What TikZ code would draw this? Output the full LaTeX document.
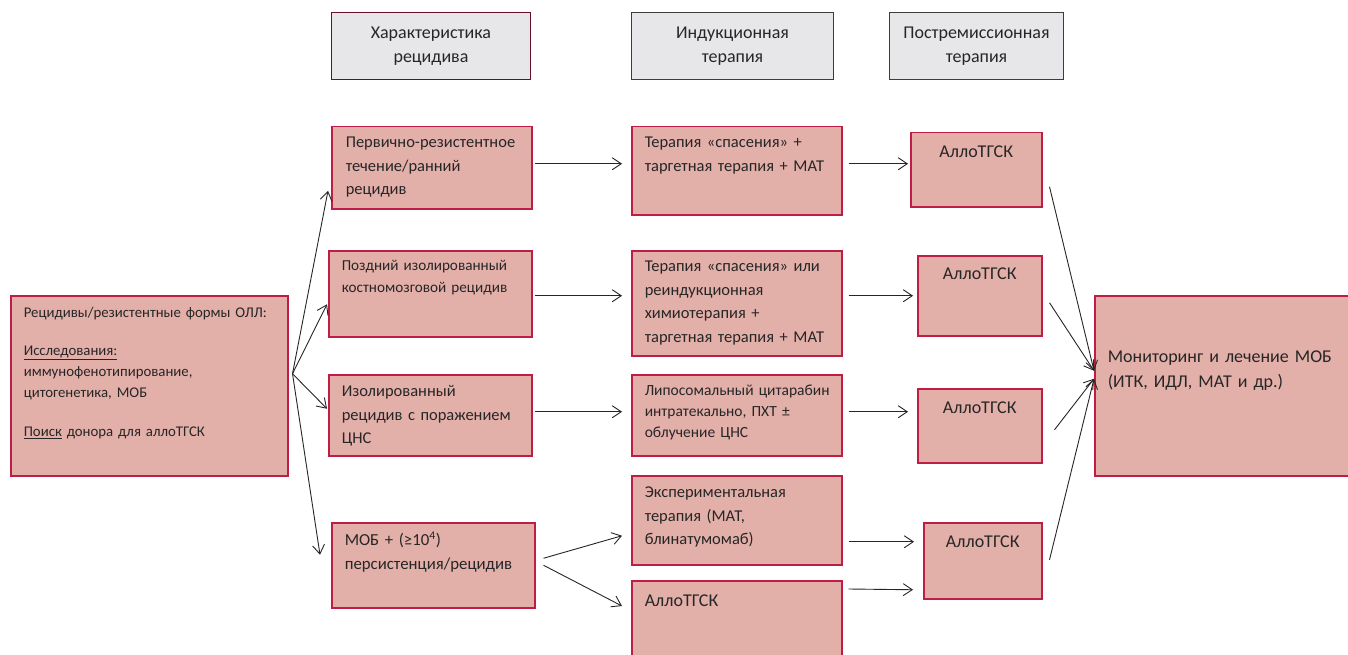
\documentclass[tikz,border=0pt]{standalone}
\usepackage{fontspec}
\setmainfont{Carlito}
\usepackage{tikz}
\usetikzlibrary{arrows.meta,positioning}
\definecolor{boxfill}{HTML}{E3AFA9}
\definecolor{boxline}{HTML}{BE1E46}
\definecolor{hdrfill}{HTML}{E7E7E9}
\definecolor{hdrline}{HTML}{3C3C3C}
\definecolor{ink}{HTML}{262626}
\newcommand{\fsz}[2]{\fontsize{#1}{#2}\selectfont}

\begin{document}
\begin{tikzpicture}[x=1pt, y=-1pt]

\tikzstyle{box} = [rectangle, draw=boxline, fill=boxfill, line width=1.5pt, anchor=north west, inner xsep=2pt, inner ysep=0pt, text=ink, align=left, font=\fsz{16.5}{23.5}]
\tikzstyle{hdr} = [rectangle, draw=hdrline, fill=hdrfill, line width=1pt, anchor=north west, inner sep=0pt, text=ink, align=center, font=\fsz{18}{24}]
\tikzstyle{arr} = [ink, line width=0.9pt, -{Straight Barb[length=9pt,width=12pt]}]
% text width, left pad, text height, text depth
\tikzset{cell/.style n args={4}{text width=#1, text height=#3, text depth=#4, execute at begin node={\advance\leftskip by #2}}}

\clip (0,0) rectangle (1348,655);
\fill[white] (0,0) rectangle (1348,655);

% column headers
\node (hchar) [hdr, draw=boxline!55!black, minimum width=199pt, minimum height=67pt] at (331,12) {Характеристика\\рецидива};
\node (hind) [hdr, minimum width=202pt, minimum height=67pt] at (631,12) {Индукционная\\терапия};
\node (hpost) [hdr, minimum width=174pt, minimum height=67pt] at (889,12) {Постремиссионная\\терапия};

% start box
\node (ozl) [box, cell={273pt}{11pt}{22pt}{158pt}, font=\fsz{14.8}{21}] at (10,295) {Рецидивы/резистентные формы ОЛЛ:\\[17pt]\underline{Исследования:}\\иммунофенотипирование,\\цитогенетика, МОБ\\[18pt]\underline{Поиск} донора для аллоТГСК};

% relapse type
\node (early) [box, cell={196pt}{12pt}{21pt}{61pt}] at (331,126) {Первично-резистентное\\течение/ранний\\рецидив};
\node (late) [box, cell={199pt}{11pt}{20pt}{66pt}, font=\fsz{15.2}{22}] at (328,250) {Поздний изолированный\\костномозговой рецидив};
\node (cns) [box, cell={199pt}{11pt}{22pt}{59pt}] at (328,374) {Изолированный\\рецидив с поражением\\ЦНС};
\node (mrd) [box, cell={199pt}{11pt}{23pt}{62pt}, font=\fsz{16.8}{23.5}] at (331,522) {МОБ + (≥10\textsuperscript{4})\\персистенция/рецидив};

% induction
\node (salv1) [box, cell={206pt}{11pt}{21pt}{67pt}] at (631,126) {Терапия «спасения» +\\таргетная терапия + МАТ};
\node (salv2) [box, cell={206pt}{11pt}{21pt}{84pt}] at (631,250) {Терапия «спасения» или\\реиндукционная\\химиотерапия +\\таргетная терапия + МАТ};
\node (lipo) [box, cell={206pt}{11pt}{21pt}{60pt}, font=\fsz{15.5}{21}] at (631,374) {Липосомальный цитарабин\\интратекально, ПХТ ±\\облучение ЦНС};
\node (exper) [box, cell={206pt}{11pt}{22pt}{67pt}] at (631,475) {Экспериментальная\\терапия (МАТ,\\блинатумомаб)};
\node (allo) [box, cell={206pt}{11pt}{26pt}{59pt}, font=\fsz{18}{24}] at (631,580) {АллоТГСК};

% post-remission
\node (tgsk1) [box, cell={127pt}{0pt}{25pt}{49pt}, align=center, font=\fsz{18}{24}] at (910,132) {АллоТГСК};
\node (tgsk2) [box, cell={120pt}{0pt}{24pt}{56pt}, align=center, font=\fsz{18}{24}] at (917,255) {АллоТГСК};
\node (tgsk3) [box, cell={120pt}{0pt}{25pt}{49pt}, align=center, font=\fsz{18}{24}] at (917,388) {АллоТГСК};
\node (tgsk4) [box, cell={114pt}{0pt}{25pt}{51pt}, align=center, font=\fsz{18}{24}] at (923,522) {АллоТГСК};

\node (monit) [box, cell={256pt}{11pt}{67pt}{113pt}, font=\fsz{18}{25}] at (1094,295) {Мониторинг и лечение МОБ\\(ИТК, ИДЛ, МАТ и др.)};

% fan out of the start box
\coordinate (fork) at ([shift={(4pt,12pt)}]ozl.east);
\draw [arr] (fork) -- ([shift={(-3pt,-23pt)}]early.west);
\draw [arr] (fork) -- ([shift={(-1pt,-10.5pt)}]late.west);
\draw [arr] (fork) -- ([shift={(-1pt,6.5pt)}]cns.west);
\draw [arr] (fork) -- ([shift={(-11pt,10.5pt)}]mrd.west);

% relapse type -> induction
\draw [arr] ([shift={(2pt,4pt)}]early.east) -- ([shift={(-9pt,7pt)}]salv1.west);
\draw [arr] ([shift={(2pt,-2pt)}]late.east) -- ([shift={(-9pt,7.5pt)}]salv2.west);
\draw [arr] ([shift={(2pt,3.5pt)}]cns.east) -- ([shift={(-9pt,3.5pt)}]lipo.west);
\draw [arr] ([shift={(8pt,7pt)}]mrd.east) -- ([shift={(-9pt,-15.5pt)}]exper.west);
\draw [arr] ([xshift=8pt]mrd.east) -- ([shift={(-9pt,-26pt)}]allo.north west);

% induction -> post-remission
\draw [arr] ([shift={(6pt,7pt)}]salv1.east) -- ([shift={(-2pt,6pt)}]tgsk1.west);
\draw [arr] ([shift={(6pt,7.5pt)}]salv2.east) -- ([xshift=-4pt]tgsk2.west);
\draw [arr] ([shift={(6pt,3.5pt)}]lipo.east) -- ([shift={(-9pt,14pt)}]tgsk3.west);
\draw [arr] ([shift={(6pt,-21.5pt)}]exper.east) -- ([shift={(-9pt,19pt)}]tgsk4.west);
\draw [arr] ([shift={(6pt,-9pt)}]allo.north east) -- ([shift={(-10pt,-29pt)}]tgsk4.west);

% post-remission -> monitoring
\draw [arr] ([shift={(7pt,-17pt)}]tgsk1.east) -- ([yshift=15pt]monit.west);
\draw [arr] ([shift={(7pt,-7pt)}]tgsk2.east) -- ([yshift=15pt]monit.west);
\draw [arr] ([shift={(12pt,-4pt)}]tgsk3.east) -- ([yshift=7pt]monit.west);
\draw [arr] ([shift={(7pt,1pt)}]tgsk4.east) -- ([yshift=7pt]monit.west);

\end{tikzpicture}
\end{document}
